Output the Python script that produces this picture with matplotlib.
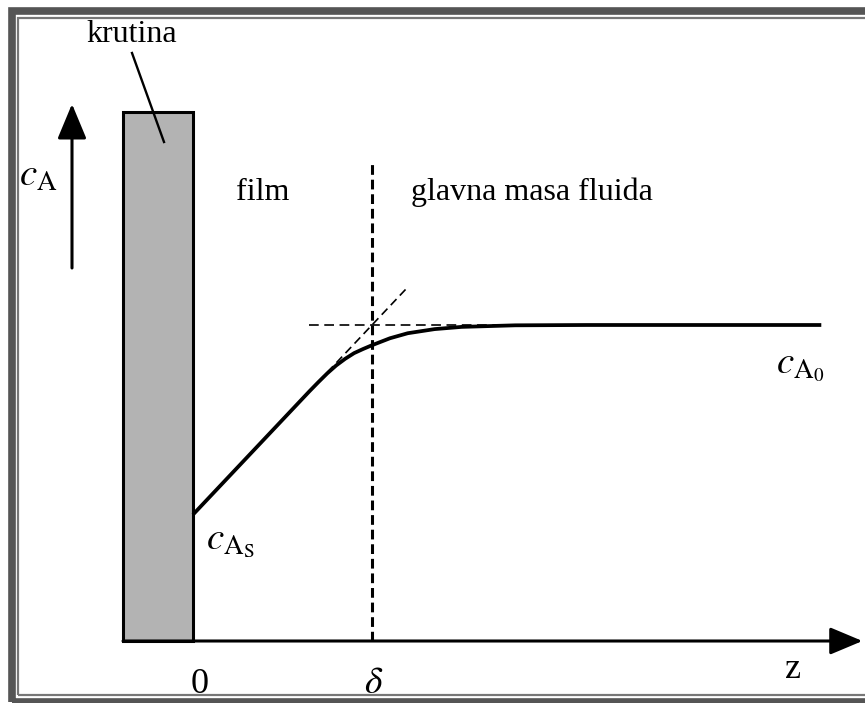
import numpy as np
import matplotlib.pyplot as plt
from matplotlib.patches import Rectangle

plt.rcParams['font.family'] = ['Liberation Serif', 'DejaVu Serif']
plt.rcParams['mathtext.fontset'] = 'stix'
plt.rcParams['lines.scale_dashes'] = False

# koncentracijski profil (z u jedinicama delta, c u jedinicama c_A0)
z_profil = [0.0, 0.3, 0.5, 0.65, 0.7, 0.75, 0.8, 0.85, 0.9, 0.95, 1.0, 1.1, 1.2,
            1.35, 1.5, 1.8, 2.2, 3.51]
c_profil = [0.40, 0.58, 0.70, 0.79, 0.819, 0.847, 0.872, 0.893, 0.911, 0.924, 0.936,
            0.958, 0.974, 0.987, 0.994, 0.999, 1.0, 1.0]
c_As = 0.40
c_A0 = 1.0
delta = 1.0
z_tangenta = [0.7, 1.2]
z_horiz = [0.65, 3.51]
z_kraj = 3.74
visina_krutine = 1.674
sirina_krutine = 0.391

W, H = 865, 703
fig = plt.figure(figsize=(W / 100, H / 100), dpi=100)
ax = fig.add_axes([0, 0, 1, 1])
ax.axis('off')

# kalibracija: z=0 -> 193 px, z=1 -> 372 px ; c=0 -> 641 px, c=1 -> 325 px
x0, sx = 193, 179
y0, sy = 641, 316
ax.set_xlim(-x0 / sx, (W - x0) / sx)
ax.set_ylim((y0 - H) / sy, y0 / sy)

def px(x, y):
    return (x - x0) / sx, (y0 - y) / sy

# okvir
def okvir(x1, y1, x2, y2, boja, lw):
    fig.add_artist(Rectangle((x1 / W, 1 - y2 / H), (x2 - x1) / W, (y2 - y1) / H,
                             transform=fig.transFigure, fill=False, ec=boja, lw=lw))
okvir(11.5, 10.5, 890, 701.5, '#555555', 5.5)
okvir(17.5, 17.5, 880, 695, '#777777', 1.6)

# krutina
ax.add_patch(Rectangle((-sirina_krutine, 0), sirina_krutine, visina_krutine,
                       fc='#b3b3b3', ec='black', lw=2.2, zorder=2))
ax.plot(*zip(px(132, 53), px(164, 142)), color='black', lw=1.7, zorder=3)
ax.text(*px(132, 42), 'krutina', ha='center', va='baseline', fontsize=23)

# osi
ax.annotate('', xy=(z_kraj, 0), xytext=(-sirina_krutine, 0),
            arrowprops=dict(arrowstyle='-|>,head_length=1.0,head_width=0.42',
                            mutation_scale=20, color='black', lw=2.2,
                            shrinkA=0, shrinkB=0))
ax.annotate('', xy=px(72, 104), xytext=px(72, 268),
            arrowprops=dict(arrowstyle='-|>,head_length=1.08,head_width=0.45',
                            mutation_scale=20, color='black', lw=2.2,
                            shrinkA=0, shrinkB=0))

# delta
ax.plot([delta, delta], [0, 1.516], color='black', lw=2.2, dashes=(7, 3.5))
ax.plot(z_horiz, [c_A0, c_A0], color='black', lw=1.2, dashes=(7, 4))
ax.plot(z_tangenta, [c_As + (c_A0 - c_As) * z for z in z_tangenta],
        color='black', lw=1.2, dashes=(6, 3.5))

# profil
ax.plot(z_profil, c_profil, color='black', lw=2.7, solid_capstyle='butt',
        solid_joinstyle='round', zorder=4)

# natpisi
ax.text(*px(263, 200), 'film', ha='center', va='baseline', fontsize=23)
ax.text(*px(532, 200), 'glavna masa fluida', ha='center', va='baseline', fontsize=23)
ax.text(*px(200, 693), '0', ha='center', va='baseline', fontsize=26)
ax.text(*px(374, 693), r'$\delta$', ha='center', va='baseline', fontsize=27)
ax.text(*px(793, 678), 'z', ha='center', va='baseline', fontsize=26)
ax.text(*px(19, 186), r'$c_{\mathrm{A}}$', ha='left', va='baseline', fontsize=28)
ax.text(*px(206, 549), r'$c_{\mathrm{A_S}}$', ha='left', va='baseline', fontsize=28)
ax.text(*px(776, 373), r'$c_{\mathrm{A_0}}$', ha='left', va='baseline', fontsize=28)

fig.savefig('out.png', dpi=100)
